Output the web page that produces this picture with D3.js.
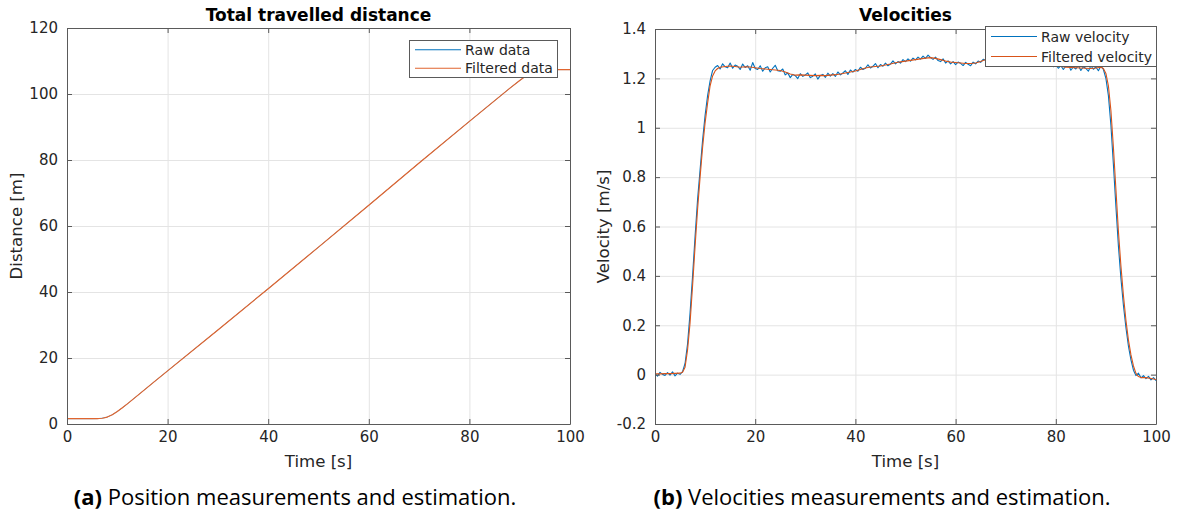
<!DOCTYPE html>
<html>
<head>
<meta charset="utf-8">
<script src="https://cdn.jsdelivr.net/npm/d3@7"></script>
<style>
  html, body { margin: 0; padding: 0; background: #fff; }
  svg { display: block; }
</style>
</head>
<body>
<div id="chart"></div>
<script>
// ---- data ----
const timeTicks = [0, 20, 40, 60, 80, 100];
const distanceTicks = [0, 20, 40, 60, 80, 100, 120];
const velocityTicks = [-0.2, 0, 0.2, 0.4, 0.6, 0.8, 1, 1.2, 1.4];

// distance [m] against time [s]
const distanceTime = [0, 5, 6, 7, 8, 9, 10, 11, 12, 14, 17.5, 20, 30, 40, 50, 60, 70, 80, 88, 90, 91, 92, 93, 94, 95, 96, 100];
const distanceFiltered = [1.6, 1.6, 1.62, 1.75, 2.1, 2.8, 3.8, 4.9, 6.1, 8.6, 13.0, 16.1, 28.5, 41.0, 53.6, 66.3, 79.1, 91.7, 101.7, 104.1, 105.2, 106.1, 106.7, 107.1, 107.3, 107.4, 107.4];
const distanceRaw = [1.6, 1.6, 1.62, 1.75, 2.1, 2.8, 3.8, 4.9, 6.1, 8.6, 13.0, 16.1, 28.5, 41.0, 53.6, 66.3, 79.1, 91.7, 101.7, 104.1, 105.2, 106.1, 106.7, 107.1, 107.3, 107.4, 107.4];

// raw velocity [m/s], one sample every 0.5 s from 0 to 100 s
const rawStep = 0.5;
const velocityRaw = [
  0.004, -0.006, 0.009, 0.001, -0.003, 0.008, -0.002, 0.011, -0.005, 0.006,
  0.001, 0.012, 0.045, 0.125, 0.25, 0.4, 0.56, 0.71, 0.83, 0.95,
  1.05, 1.13, 1.19, 1.232, 1.245, 1.252, 1.238, 1.259, 1.247, 1.243,
  1.262, 1.241, 1.254, 1.249, 1.236, 1.258, 1.244, 1.251, 1.233, 1.264,
  1.24, 1.236, 1.251, 1.229, 1.243, 1.247, 1.226, 1.241, 1.253, 1.231,
  1.229, 1.238, 1.214, 1.222, 1.203, 1.216, 1.211, 1.199, 1.219, 1.208,
  1.214, 1.222, 1.203, 1.209, 1.218, 1.197, 1.212, 1.216, 1.204, 1.221,
  1.209, 1.219, 1.208, 1.226, 1.214, 1.222, 1.231, 1.216, 1.234, 1.225,
  1.236, 1.229, 1.245, 1.236, 1.241, 1.255, 1.242, 1.249, 1.26, 1.243,
  1.256, 1.249, 1.262, 1.251, 1.258, 1.271, 1.259, 1.268, 1.262, 1.276,
  1.268, 1.279, 1.27, 1.282, 1.275, 1.286, 1.278, 1.29, 1.281, 1.294,
  1.284, 1.277, 1.286, 1.272, 1.268, 1.279, 1.262, 1.271, 1.259, 1.268,
  1.256, 1.266, 1.261, 1.252, 1.265, 1.257, 1.251, 1.266, 1.259, 1.27,
  1.265, 1.277, 1.274, 1.285, 1.279, 1.291, 1.284, 1.295, 1.287, 1.283,
  1.294, 1.285, 1.29, 1.281, 1.293, 1.279, 1.287, 1.276, 1.284, 1.271,
  1.279, 1.266, 1.274, 1.262, 1.269, 1.256, 1.265, 1.251, 1.26, 1.247,
  1.255, 1.241, 1.252, 1.236, 1.249, 1.257, 1.233, 1.246, 1.238, 1.252,
  1.232, 1.247, 1.24, 1.229, 1.251, 1.237, 1.246, 1.231, 1.25, 1.236,
  1.2, 1.13, 1.01, 0.85, 0.68, 0.52, 0.39, 0.28, 0.19, 0.115,
  0.06, 0.018, -0.004, 0.006, -0.013, -0.004, -0.016, -0.007, -0.021, -0.012,
  -0.024
];

// filtered velocity [m/s]
const velocityTime = [0, 1, 2, 3, 4, 5, 5.5, 6, 6.5, 7, 7.5, 8, 8.5, 9, 9.5, 10, 10.5, 11, 11.5, 12, 12.5, 13,
  14, 15, 16, 17, 18, 19, 20, 21, 22, 23, 24, 25, 26, 27, 28, 29, 30, 31, 32, 33, 34, 35, 36, 37, 38, 39, 40,
  41, 42, 43, 44, 45, 46, 47, 48, 49, 50, 51, 52, 53, 54, 55, 56, 57, 58, 59, 60, 61, 62, 63, 64, 65, 66, 67, 68,
  70, 72, 74, 76, 78, 80, 81, 82, 83, 84, 85, 86, 87, 88, 89, 89.5, 90, 90.5, 91, 91.5, 92, 92.5, 93, 93.5, 94,
  94.5, 95, 95.5, 96, 96.5, 97, 98, 99, 100];
const velocityFiltered = [0.003, 0.003, 0.004, 0.004, 0.005, 0.006, 0.01, 0.03, 0.1, 0.21, 0.36, 0.52, 0.67, 0.8, 0.92, 1.02, 1.1, 1.17, 1.21, 1.23, 1.24, 1.245,
  1.248, 1.25, 1.248, 1.245, 1.247, 1.246, 1.243, 1.24, 1.238, 1.236, 1.234, 1.232, 1.226, 1.218, 1.213, 1.214, 1.213, 1.212, 1.211, 1.212, 1.211, 1.213, 1.215, 1.218, 1.222, 1.226, 1.23,
  1.236, 1.242, 1.246, 1.248, 1.25, 1.254, 1.258, 1.263, 1.267, 1.27, 1.273, 1.276, 1.279, 1.282, 1.284, 1.281, 1.276, 1.27, 1.266, 1.264, 1.262, 1.26, 1.26, 1.262, 1.268, 1.276, 1.282, 1.285,
  1.288, 1.285, 1.28, 1.272, 1.262, 1.252, 1.248, 1.245, 1.244, 1.243, 1.242, 1.241, 1.24, 1.242, 1.245, 1.24, 1.22, 1.17, 1.07, 0.92, 0.75, 0.58, 0.44, 0.32, 0.22,
  0.14, 0.08, 0.035, 0.005, -0.008, -0.012, -0.012, -0.016, -0.02];

// ---- drawing ----
const width = 1180;
const height = 513;
const blue = "#0072bd";
const orange = "#d95319";
const font = "'DejaVu Sans', sans-serif";

const svg = d3.select("#chart")
    .append("svg")
    .attr("width", width)
    .attr("height", height)
    .attr("viewBox", `0 0 ${width} ${height}`);

const rawVelocityPoints = velocityRaw.map((v, i) => ({ t: i * rawStep, v }));
const filteredVelocityPoints = velocityTime.map((t, i) => ({ t, v: velocityFiltered[i] }));
const rawDistancePoints = distanceTime.map((t, i) => ({ t, v: distanceRaw[i] }));
const filteredDistancePoints = distanceTime.map((t, i) => ({ t, v: distanceFiltered[i] }));

const panels = [
    {
        id: "a",
        left: 67, right: 570, top: 28, bottom: 424,
        yDomain: [0, 120], yTicks: distanceTicks,
        title: "Total travelled distance",
        yLabel: "Distance [m]", yLabelX: 22,
        series: [
            { label: "Raw data", color: blue, width: 0.6, values: rawDistancePoints },
            { label: "Filtered data", color: "#e0652f", width: 1.2, values: filteredDistancePoints }
        ],
        legend: { x: 409, y: 40, w: 148, h: 37 },
        caption: { tag: "(a)", text: " Position measurements and estimation.", cx: 295 }
    },
    {
        id: "b",
        left: 655, right: 1156, top: 29, bottom: 424,
        yDomain: [-0.2, 1.4], yTicks: velocityTicks,
        title: "Velocities",
        yLabel: "Velocity [m/s]", yLabelX: 609,
        series: [
            { label: "Raw velocity", color: blue, width: 1.1, values: rawVelocityPoints },
            { label: "Filtered velocity", color: orange, width: 1.1, values: filteredVelocityPoints }
        ],
        legend: { x: 985, y: 26, w: 171, h: 40 },
        caption: { tag: "(b)", text: " Velocities measurements and estimation.", cx: 882 }
    }
];

panels.forEach(p => {
    const x = d3.scaleLinear().domain([0, 100]).range([p.left, p.right]);
    const y = d3.scaleLinear().domain(p.yDomain).range([p.bottom, p.top]);
    const innerW = p.right - p.left;
    const innerH = p.bottom - p.top;
    const g = svg.append("g").attr("class", `panel-${p.id}`);

    g.append("clipPath").attr("id", `clip-${p.id}`)
        .append("rect")
        .attr("x", p.left).attr("y", p.top)
        .attr("width", innerW).attr("height", innerH);

    // grid
    g.append("g")
        .attr("transform", `translate(0, ${p.bottom})`)
        .call(d3.axisBottom(x).tickValues(timeTicks).tickSize(-innerH).tickFormat(""))
        .call(a => a.select(".domain").remove())
        .call(a => a.selectAll(".tick line").attr("stroke", "#e4e4e4"));
    g.append("g")
        .attr("transform", `translate(${p.left}, 0)`)
        .call(d3.axisLeft(y).tickValues(p.yTicks).tickSize(-innerW).tickFormat(""))
        .call(a => a.select(".domain").remove())
        .call(a => a.selectAll(".tick line").attr("stroke", "#e4e4e4"));

    // lines
    const line = d3.line().x(d => x(d.t)).y(d => y(d.v));
    g.append("g")
        .attr("clip-path", `url(#clip-${p.id})`)
        .selectAll("path")
        .data(p.series)
        .join("path")
        .attr("fill", "none")
        .attr("stroke", d => d.color)
        .attr("stroke-width", d => d.width)
        .attr("stroke-linejoin", "round")
        .attr("d", d => line(d.values));

    // axes (box with inward ticks)
    const styleAxis = a => {
        a.select(".domain").attr("stroke", "#5a5a5a");
        a.selectAll(".tick line").attr("stroke", "#5a5a5a");
        a.selectAll(".tick text")
            .attr("fill", "#262626")
            .style("font-family", font)
            .style("font-size", "15px");
    };
    g.append("g")
        .attr("transform", `translate(0, ${p.bottom})`)
        .call(d3.axisBottom(x).tickValues(timeTicks).tickSize(-5).tickSizeOuter(0).tickPadding(7).tickFormat(d => String(d)))
        .call(styleAxis);
    g.append("g")
        .attr("transform", `translate(0, ${p.top})`)
        .call(d3.axisTop(x).tickValues(timeTicks).tickSize(-5).tickSizeOuter(0).tickFormat(""))
        .call(styleAxis);
    g.append("g")
        .attr("transform", `translate(${p.left}, 0)`)
        .call(d3.axisLeft(y).tickValues(p.yTicks).tickSize(-5).tickSizeOuter(0).tickPadding(9).tickFormat(d => String(d)))
        .call(styleAxis);
    g.append("g")
        .attr("transform", `translate(${p.right}, 0)`)
        .call(d3.axisRight(y).tickValues(p.yTicks).tickSize(-5).tickSizeOuter(0).tickFormat(""))
        .call(styleAxis);

    // title and labels
    g.append("text")
        .attr("x", (p.left + p.right) / 2)
        .attr("y", 21)
        .attr("text-anchor", "middle")
        .attr("fill", "#000")
        .style("font-family", font)
        .style("font-size", "17px")
        .style("font-weight", "bold")
        .text(p.title);
    g.append("text")
        .attr("x", (p.left + p.right) / 2)
        .attr("y", 467)
        .attr("text-anchor", "middle")
        .attr("fill", "#262626")
        .style("font-family", font)
        .style("font-size", "16.6px")
        .text("Time [s]");
    g.append("text")
        .attr("transform", `translate(${p.yLabelX}, ${(p.top + p.bottom) / 2}) rotate(-90)`)
        .attr("text-anchor", "middle")
        .attr("fill", "#262626")
        .style("font-family", font)
        .style("font-size", "16.6px")
        .text(p.yLabel);

    // legend
    const lg = g.append("g").attr("transform", `translate(${p.legend.x}, ${p.legend.y})`);
    lg.append("rect")
        .attr("x", 0.5).attr("y", 0.5)
        .attr("width", p.legend.w).attr("height", p.legend.h)
        .attr("fill", "#fff")
        .attr("stroke", "#5a5a5a")
        .attr("stroke-width", 1);
    const rowGap = p.legend.h / 2;
    const items = lg.selectAll("g.item")
        .data(p.series)
        .join("g")
        .attr("class", "item")
        .attr("transform", (d, i) => `translate(0, ${rowGap * (i + 0.5) + 0.5})`);
    items.append("line")
        .attr("x1", 6).attr("x2", 52)
        .attr("stroke", d => d.color)
        .attr("stroke-width", 1.1);
    items.append("text")
        .attr("x", 56)
        .attr("y", 5)
        .attr("fill", "#262626")
        .style("font-family", font)
        .style("font-size", "14px")
        .text(d => d.label);

    // caption
    const cap = svg.append("text")
        .attr("x", p.caption.cx)
        .attr("y", 505)
        .attr("text-anchor", "middle")
        .attr("fill", "#000")
        .style("font-family", "'Open Sans', sans-serif")
        .style("font-size", "22px");
    cap.append("tspan").style("font-weight", "bold").text(p.caption.tag);
    cap.append("tspan").text(p.caption.text);
});
</script>
</body>
</html>
